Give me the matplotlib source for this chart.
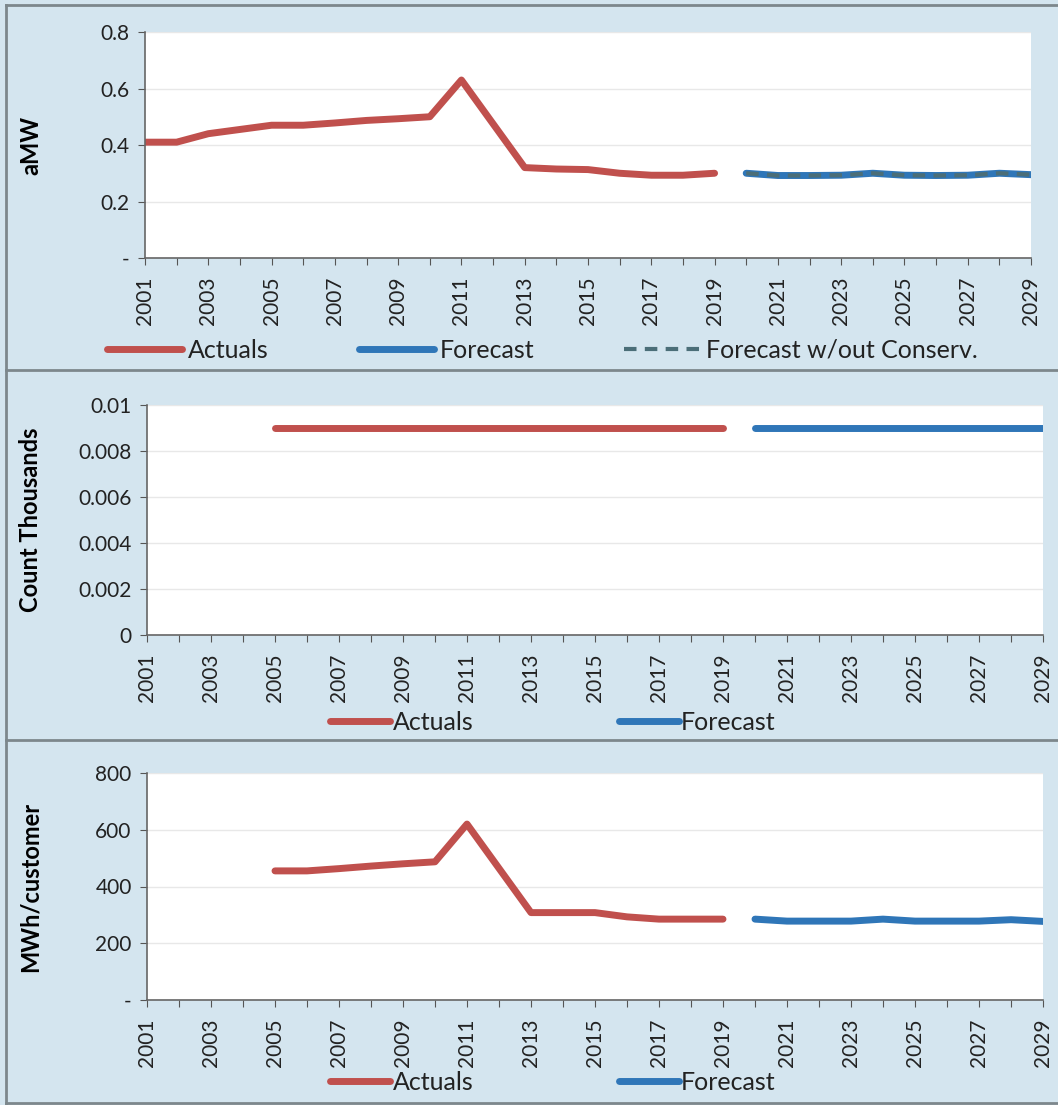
import matplotlib
matplotlib.use('Agg')
import matplotlib.pyplot as plt
from matplotlib.lines import Line2D
from matplotlib.ticker import FuncFormatter

plt.rcParams['font.family'] = ['Lato', 'DejaVu Sans']

years_actual = list(range(2001, 2020))
years_fcst = list(range(2020, 2030))

# panel 1: aMW
amw_actual = [0.41, 0.41, 0.44, 0.455, 0.47, 0.47, 0.478, 0.487, 0.493, 0.50,
              0.63, 0.475, 0.32, 0.315, 0.313, 0.30, 0.293, 0.293, 0.30]
amw_fcst = [0.30, 0.292, 0.292, 0.293, 0.30, 0.293, 0.292, 0.293, 0.30, 0.295]
amw_fcst_noconserv = [0.30, 0.292, 0.292, 0.293, 0.30, 0.293, 0.292, 0.293, 0.30, 0.295]

# panel 2: customer count (thousands)
years_count_actual = list(range(2005, 2020))
count_actual = [0.009] * 15
count_fcst = [0.009] * 10

# panel 3: MWh per customer
years_use_actual = list(range(2005, 2020))
use_actual = [455, 455, 463, 472, 480, 487, 620, 464, 308, 308, 308, 293, 285, 285, 285]
use_fcst = [285, 278, 278, 278, 285, 278, 278, 278, 283, 277]

RED = '#c0504d'
BLUE = '#2f76b8'
DASH = '#4b6e78'
BG = '#d4e5ef'
BORDER = '#7d878c'
W, H = 1058, 1105

fig = plt.figure(figsize=(W / 100, H / 100), dpi=100)
fig.patch.set_facecolor(BG)


def style_axis(ax, ylim, yticks, fmt, left_px):
    ax.set_xlim(2001, 2029)
    ax.set_ylim(*ylim)
    ax.set_xticks(range(2001, 2030))
    ax.set_xticklabels([str(y) if (y - 2001) % 2 == 0 else '' for y in range(2001, 2030)],
                       rotation=90, fontsize=15)
    ax.set_yticks(yticks)
    ax.yaxis.set_major_formatter(FuncFormatter(fmt))
    ax.tick_params(axis='y', labelsize=15, length=5, pad=6, color='#555555', labelcolor='#222222')
    ax.tick_params(axis='x', length=5, pad=8, color='#555555', labelcolor='#222222')
    ax.grid(axis='y', color='#e8e8e8', linewidth=1)
    ax.set_axisbelow(True)
    for s in ['top', 'right']:
        ax.spines[s].set_visible(False)
    for s in ['left', 'bottom']:
        ax.spines[s].set_color('#666666')
        ax.spines[s].set_linewidth(1.2)
    ax.set_facecolor('white')
    # right side of the rotated y label sits at about x=42 px in the figure
    width_px = ax.get_position().width * W
    ax.yaxis.set_label_coords((42 - left_px) / width_px, 0.5)


def dash_zero(fmt_str):
    def f(v, pos):
        if abs(v) < 1e-12:
            return '-'
        return fmt_str.format(v)
    return f


def count_fmt(v, pos):
    if abs(v) < 1e-12:
        return '0'
    if abs(v - 0.01) < 1e-9:
        return '0.01'
    return '{:.3f}'.format(v)


legend_kw = dict(frameon=False, fontsize=18, labelcolor='#222222')

# panel 1
ax1 = fig.add_axes([145 / W, 1 - 258 / H, 886 / W, 226 / H])
ax1.plot(years_actual, amw_actual, color=RED, lw=5, solid_capstyle='round', label='Actuals')
ax1.plot(years_fcst, amw_fcst, color=BLUE, lw=5, solid_capstyle='round', label='Forecast')
ax1.plot(years_fcst, amw_fcst_noconserv, color=DASH, lw=3, ls=(0, (3, 2)),
         label='Forecast w/out Conserv.')
style_axis(ax1, (0, 0.8), [0, 0.2, 0.4, 0.6, 0.8], dash_zero('{:.1f}'), 145)
ax1.set_ylabel('aMW', fontsize=17, fontweight='bold')
ax1.legend(loc='center', bbox_to_anchor=(542 / W, 1 - 350 / H), bbox_transform=fig.transFigure,
           ncol=3, handlelength=3, columnspacing=3.6, handletextpad=0.25, **legend_kw)

# panel 2
ax2 = fig.add_axes([147 / W, 1 - 635 / H, 896 / W, 230 / H])
ax2.plot(years_count_actual, count_actual, color=RED, lw=5, solid_capstyle='round', label='Actuals')
ax2.plot(years_fcst, count_fcst, color=BLUE, lw=5, solid_capstyle='round', label='Forecast')
style_axis(ax2, (0, 0.01), [0, 0.002, 0.004, 0.006, 0.008, 0.01], count_fmt, 147)
ax2.set_ylabel('Count Thousands', fontsize=17, fontweight='bold')
ax2.legend(loc='center', bbox_to_anchor=(553 / W, 1 - 722 / H), bbox_transform=fig.transFigure,
           ncol=2, handlelength=2.4, columnspacing=5.8, handletextpad=0.1, **legend_kw)

# panel 3
ax3 = fig.add_axes([147 / W, 1 - 1000 / H, 896 / W, 227 / H])
ax3.plot(years_use_actual, use_actual, color=RED, lw=5, solid_capstyle='round', label='Actuals')
ax3.plot(years_fcst, use_fcst, color=BLUE, lw=5, solid_capstyle='round', label='Forecast')
style_axis(ax3, (0, 800), [0, 200, 400, 600, 800], dash_zero('{:.0f}'), 147)
ax3.set_ylabel('MWh/customer', fontsize=17, fontweight='bold')
ax3.legend(loc='center', bbox_to_anchor=(553 / W, 1 - 1082 / H), bbox_transform=fig.transFigure,
           ncol=2, handlelength=2.4, columnspacing=5.8, handletextpad=0.1, **legend_kw)

# panel frames
for yy in [5, 370, 740, 1103]:
    fig.add_artist(Line2D([6 / W, 1], [1 - yy / H] * 2, transform=fig.transFigure,
                          color=BORDER, lw=2))
fig.add_artist(Line2D([6 / W, 6 / W], [0, 1 - 5 / H], transform=fig.transFigure,
                      color=BORDER, lw=2))

fig.savefig('out.png', dpi=100, facecolor=BG)
